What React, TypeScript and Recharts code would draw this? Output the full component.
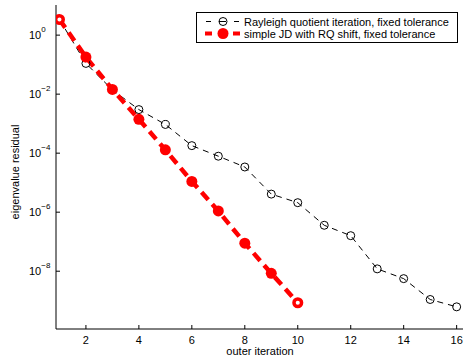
import { Legend, Line, LineChart, XAxis, YAxis } from "recharts";

const iterations = [1, 2, 3, 4, 5, 6, 7, 8, 9, 10, 11, 12, 13, 14, 15, 16];
const rqiResidual = [
  3.4, 0.11, 0.014, 0.003, 9.4e-4, 1.8e-4, 7.9e-5, 3.4e-5, 4.1e-6, 2.1e-6,
  3.6e-7, 1.6e-7, 1.2e-8, 5.6e-9, 1.1e-9, 6.2e-10,
];
const jdResidual = [
  3.4, 0.18, 0.0145, 0.0014, 1.3e-4, 1.1e-5, 1.1e-6, 8.9e-8, 8.5e-9, 8.5e-10,
];
const xTicks = [2, 4, 6, 8, 10, 12, 14, 16];
const yTicks = [1, 1e-2, 1e-4, 1e-6, 1e-8];
const seriesNames = [
  "Rayleigh quotient iteration, fixed tolerance",
  "simple JD with RQ shift, fixed tolerance",
];

const data = iterations.map((it, i) => ({
  iter: it,
  rqi: rqiResidual[i],
  jd: i < jdResidual.length ? jdResidual[i] : undefined,
}));

const FONT = "'Liberation Sans', Arial, sans-serif";
const X_DOMAIN = [0.87, 16.24];
const Y_DOMAIN = [1.1e-10, 10.5];

function BottomTick(props: any) {
  const { x, y, payload } = props;
  return (
    <g>
      <line x1={x} x2={x} y1={y} y2={y - 4} stroke="#000" />
      <text x={x} y={y + 15} textAnchor="middle" fontSize={11} fill="#000">
        {payload.value}
      </text>
    </g>
  );
}

function TopTick(props: any) {
  const { x, y } = props;
  return <line x1={x} x2={x} y1={y} y2={y + 4} stroke="#000" />;
}

function LeftTick(props: any) {
  const { x, y, payload } = props;
  const exp = Math.round(Math.log10(payload.value));
  const expText = exp < 0 ? `\u2212${-exp}` : `${exp}`;
  return (
    <g>
      <line x1={x} x2={x + 4} y1={y} y2={y} stroke="#000" />
      <text x={x - 27} y={y + 4} fontSize={11} fill="#000">
        <tspan>10</tspan>
        <tspan dy={-7} fontSize={8}>
          {expText}
        </tspan>
      </text>
    </g>
  );
}

function RightTick(props: any) {
  const { x, y } = props;
  return <line x1={x} x2={x - 4} y1={y} y2={y} stroke="#000" />;
}

function JdDot(props: any) {
  const { cx, cy, index } = props;
  if (cy == null || cx == null) return <g key={`jd-${index}`} />;
  const ring = index === 0 || index === jdResidual.length - 1;
  if (ring) {
    return (
      <circle
        key={`jd-${index}`}
        cx={cx}
        cy={cy}
        r={3.8}
        fill="#fff"
        stroke="#ff0000"
        strokeWidth={3.5}
      />
    );
  }
  return <circle key={`jd-${index}`} cx={cx} cy={cy} r={5.5} fill="#ff0000" />;
}

function LegendBox() {
  return (
    <svg width={262} height={31} style={{ display: "block", fontFamily: FONT }}>
      <rect x={0.5} y={0.5} width={261} height={30} fill="#fff" stroke="#000" />
      <line x1={10} x2={43} y1={9.5} y2={9.5} stroke="#000" strokeDasharray="5 8 7 8 5" />
      <circle cx={27} cy={9.5} r={4} fill="none" stroke="#000" />
      <text x={48} y={13.5} fontSize={11} fill="#000">
        {seriesNames[0]}
      </text>
      <line
        x1={9}
        x2={44}
        y1={21.5}
        y2={21.5}
        stroke="#ff0000"
        strokeWidth={4}
        strokeDasharray="7 6 10 5 7"
      />
      <circle cx={27} cy={21.5} r={5.5} fill="#ff0000" />
      <text x={48} y={25.5} fontSize={11} fill="#000">
        {seriesNames[1]}
      </text>
    </svg>
  );
}

export default function App() {
  return (
    <div style={{ position: "absolute", left: 0, top: 0, background: "#fff" }}>
      <LineChart
        width={465}
        height={362}
        data={data}
        margin={{ top: 5, right: 2, bottom: 5, left: 0 }}
        style={{ fontFamily: FONT }}
      >
        <XAxis
          dataKey="iter"
          type="number"
          domain={X_DOMAIN}
          allowDataOverflow
          ticks={xTicks}
          height={28}
          tickSize={0}
          tickMargin={0}
          tickLine={false}
          axisLine={{ stroke: "#000" }}
          tick={<BottomTick />}
          label={{
            content: () => (
              <text x={260} y={355} textAnchor="middle" fontSize={11} fill="#000">
                outer iteration
              </text>
            ),
          }}
        />
        <XAxis
          xAxisId="top"
          dataKey="iter"
          type="number"
          orientation="top"
          domain={X_DOMAIN}
          allowDataOverflow
          ticks={xTicks}
          height={0}
          tickSize={0}
          tickMargin={0}
          tickLine={false}
          axisLine={{ stroke: "#000" }}
          tick={<TopTick />}
        />
        <YAxis
          scale="log"
          type="number"
          domain={Y_DOMAIN}
          allowDataOverflow
          ticks={yTicks}
          width={56}
          tickSize={0}
          tickMargin={0}
          tickLine={false}
          axisLine={{ stroke: "#000" }}
          tick={<LeftTick />}
          label={{
            content: () => (
              <text
                x={18.5}
                y={172}
                textAnchor="middle"
                fontSize={11}
                fill="#000"
                transform="rotate(-90, 18.5, 172)"
              >
                eigenvalue residual
              </text>
            ),
          }}
        />
        <YAxis
          yAxisId="right"
          orientation="right"
          scale="log"
          type="number"
          domain={Y_DOMAIN}
          allowDataOverflow
          ticks={yTicks}
          width={0}
          tickSize={0}
          tickMargin={0}
          tickLine={false}
          axisLine={{ stroke: "#000" }}
          tick={<RightTick />}
        />
        <Legend
          layout="horizontal"
          verticalAlign="middle"
          align="center"
          wrapperStyle={{ position: "absolute", left: 196, top: 12, width: 262, height: 31 }}
          content={() => <LegendBox />}
        />
        <Line
          dataKey="rqi"
          type="linear"
          stroke="#000"
          strokeWidth={1}
          strokeDasharray="6 5"
          dot={{ r: 4, fill: "none", stroke: "#000", strokeWidth: 1, strokeDasharray: "" }}
          isAnimationActive={false}
        />
        <Line
          dataKey="jd"
          type="linear"
          stroke="#ff0000"
          strokeWidth={4.5}
          strokeDasharray="10 6"
          dot={JdDot}
          isAnimationActive={false}
        />
      </LineChart>
    </div>
  );
}
